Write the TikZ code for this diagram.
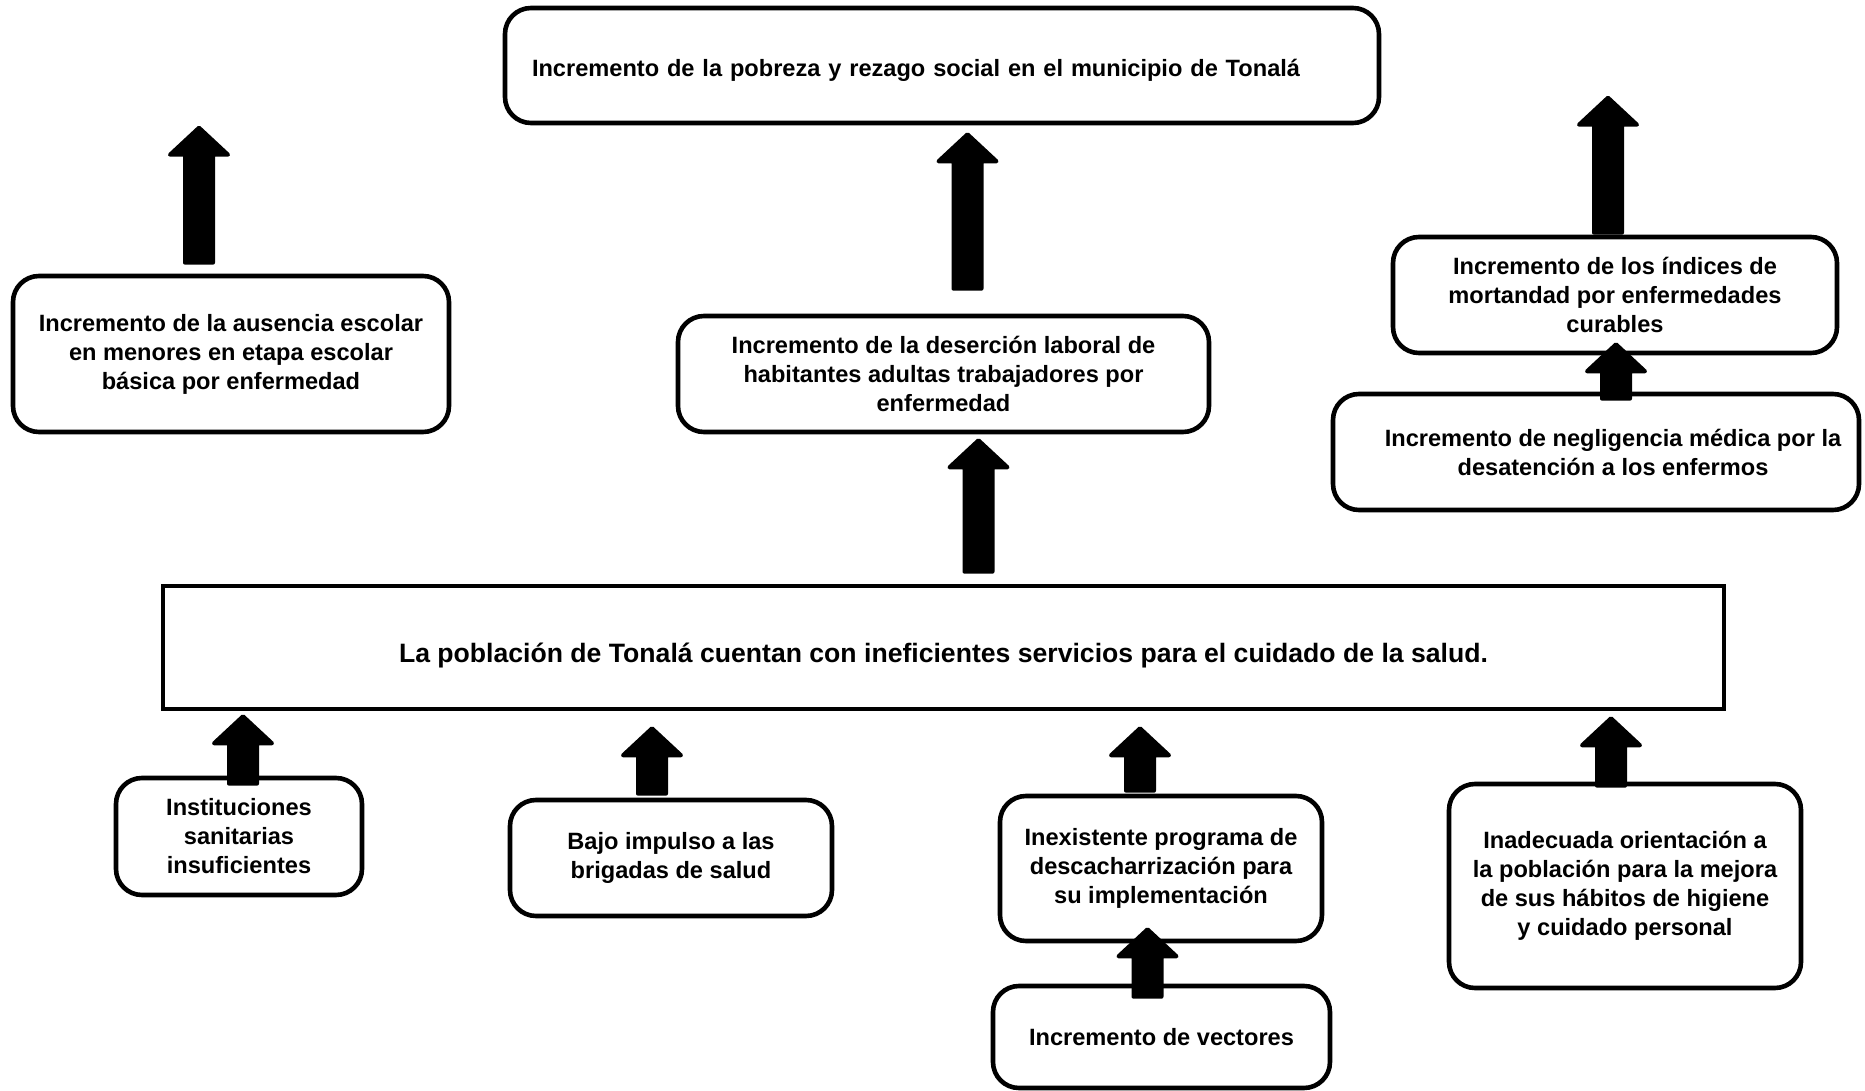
\documentclass[tikz,border=0pt]{standalone}
\usepackage{fontspec}
\setmainfont{Liberation Sans}
\usetikzlibrary{calc}

\tikzset{
	caja/.style={draw, line width=2.3pt, rounded corners=13pt, fill=white, align=center, font=\fontsize{11.8pt}{14.5pt}\selectfont\bfseries},
	cajarecta/.style={caja, rounded corners=0pt, font=\fontsize{13.3pt}{16pt}\selectfont\bfseries},
	flecha/.style={draw, fill=black, line width=2pt, line join=round,
		to path={let \p1=(\tikztostart), \p2=(\tikztotarget) in
			(\x1-7pt,\y1+1pt) -- (\x1-7pt,\y2-14.5pt) -- (\x1-14.5pt,\y2-14.5pt) -- (\x1,\y2-1pt)
			-- (\x1+14.5pt,\y2-14.5pt) -- (\x1+7pt,\y2-14.5pt) -- (\x1+7pt,\y1+1pt) -- cycle}}
}

\begin{document}
\begin{tikzpicture}[x=0.5pt, y=-0.5pt]
	\path [use as bounding box, fill=white] (0,0) rectangle (1865,1091);
	% efectos
	\node [caja, minimum width=437pt, minimum height=57.5pt, text width=410pt, align=left, inner xsep=13.5pt] (pobreza) at (942,65.5) {\raisebox{-2.5pt}[\height][\depth]{Incremento de la pobreza y rezago social en el municipio de Tonalá}};
	\node [caja, minimum width=265.5pt, minimum height=58pt] (desercion) at (943.5,374) {Incremento de la deserción laboral de\\habitantes adultas trabajadores por\\enfermedad};
	\node [caja, minimum width=218pt, minimum height=78pt] (ausencia) at (231,354) {Incremento de la ausencia escolar\\en menores en etapa escolar\\básica por enfermedad};
	\node [caja, minimum width=222pt, minimum height=58pt] (mortandad) at (1615,295) {Incremento de los índices de\\mortandad por enfermedades\\curables};
	\node [caja, minimum width=263pt, minimum height=58pt] (negligencia) at (1596,452) {\hspace*{17pt}Incremento de negligencia médica por la\\\hspace*{17pt}desatención a los enfermos};
	% problema central
	\node [cajarecta, minimum width=780.5pt, minimum height=61.5pt] (problema) at (943.5,647.5) {\raisebox{-4pt}[\height][\depth]{La población de Tonalá cuentan con ineficientes servicios para el cuidado de la salud.}};
	% causas
	\node [caja, minimum width=123pt, minimum height=58.5pt] (instituciones) at (239,836.5) {Instituciones\\sanitarias\\insuficientes};
	\node [caja, minimum width=161pt, minimum height=58pt] (bajo) at (671,858) {Bajo impulso a las\\brigadas de salud};
	\node [caja, minimum width=161pt, minimum height=72.5pt] (inexistente) at (1161,868.5) {Inexistente programa de\\descacharrización para\\su implementación};
	\node [caja, minimum width=168.5pt, minimum height=51pt] (vectores) at (1161.5,1037) {Incremento de vectores};
	\node [caja, minimum width=176pt, minimum height=102pt] (inadecuada) at (1625,886) {Inadecuada orientación a\\la población para la mejora\\de sus hábitos de higiene\\y cuidado personal};
	% flechas
	\draw [flecha] ($(ausencia.north)+(-32,-9)$) to ($(ausencia.north)+(-32,-148)$);
	\draw [flecha] ($(desercion.north)+(24,-23)$) to ($(pobreza.south)+(25,7)$);
	\draw [flecha] ($(problema.north)+(35,-10)$) to ($(desercion.south)+(35,4)$);
	\draw [flecha] ($(mortandad.north)+(-7,0)$) to ($(mortandad.north)+(-7,-139)$);
	\draw [flecha] ($(negligencia.north)+(20,9)$) to ($(mortandad.south)+(1,-13)$);
	\draw [flecha] ($(instituciones.north)+(4,10)$) to ($(instituciones.north |- problema.south)+(4,3)$);
	\draw [flecha] ($(bajo.north)+(-19,-2)$) to ($(bajo.north |- problema.south)+(-19,15)$);
	\draw [flecha] ($(inexistente.north)+(-21,-1)$) to ($(inexistente.north |- problema.south)+(-21,15)$);
	\draw [flecha] ($(vectores.north)+(-14,15)$) to ($(inexistente.south)+(-14,-16)$);
	\draw [flecha] ($(inadecuada.north)+(-14,6)$) to ($(inadecuada.north |- problema.south)+(-14,5)$);
\end{tikzpicture}
\end{document}
